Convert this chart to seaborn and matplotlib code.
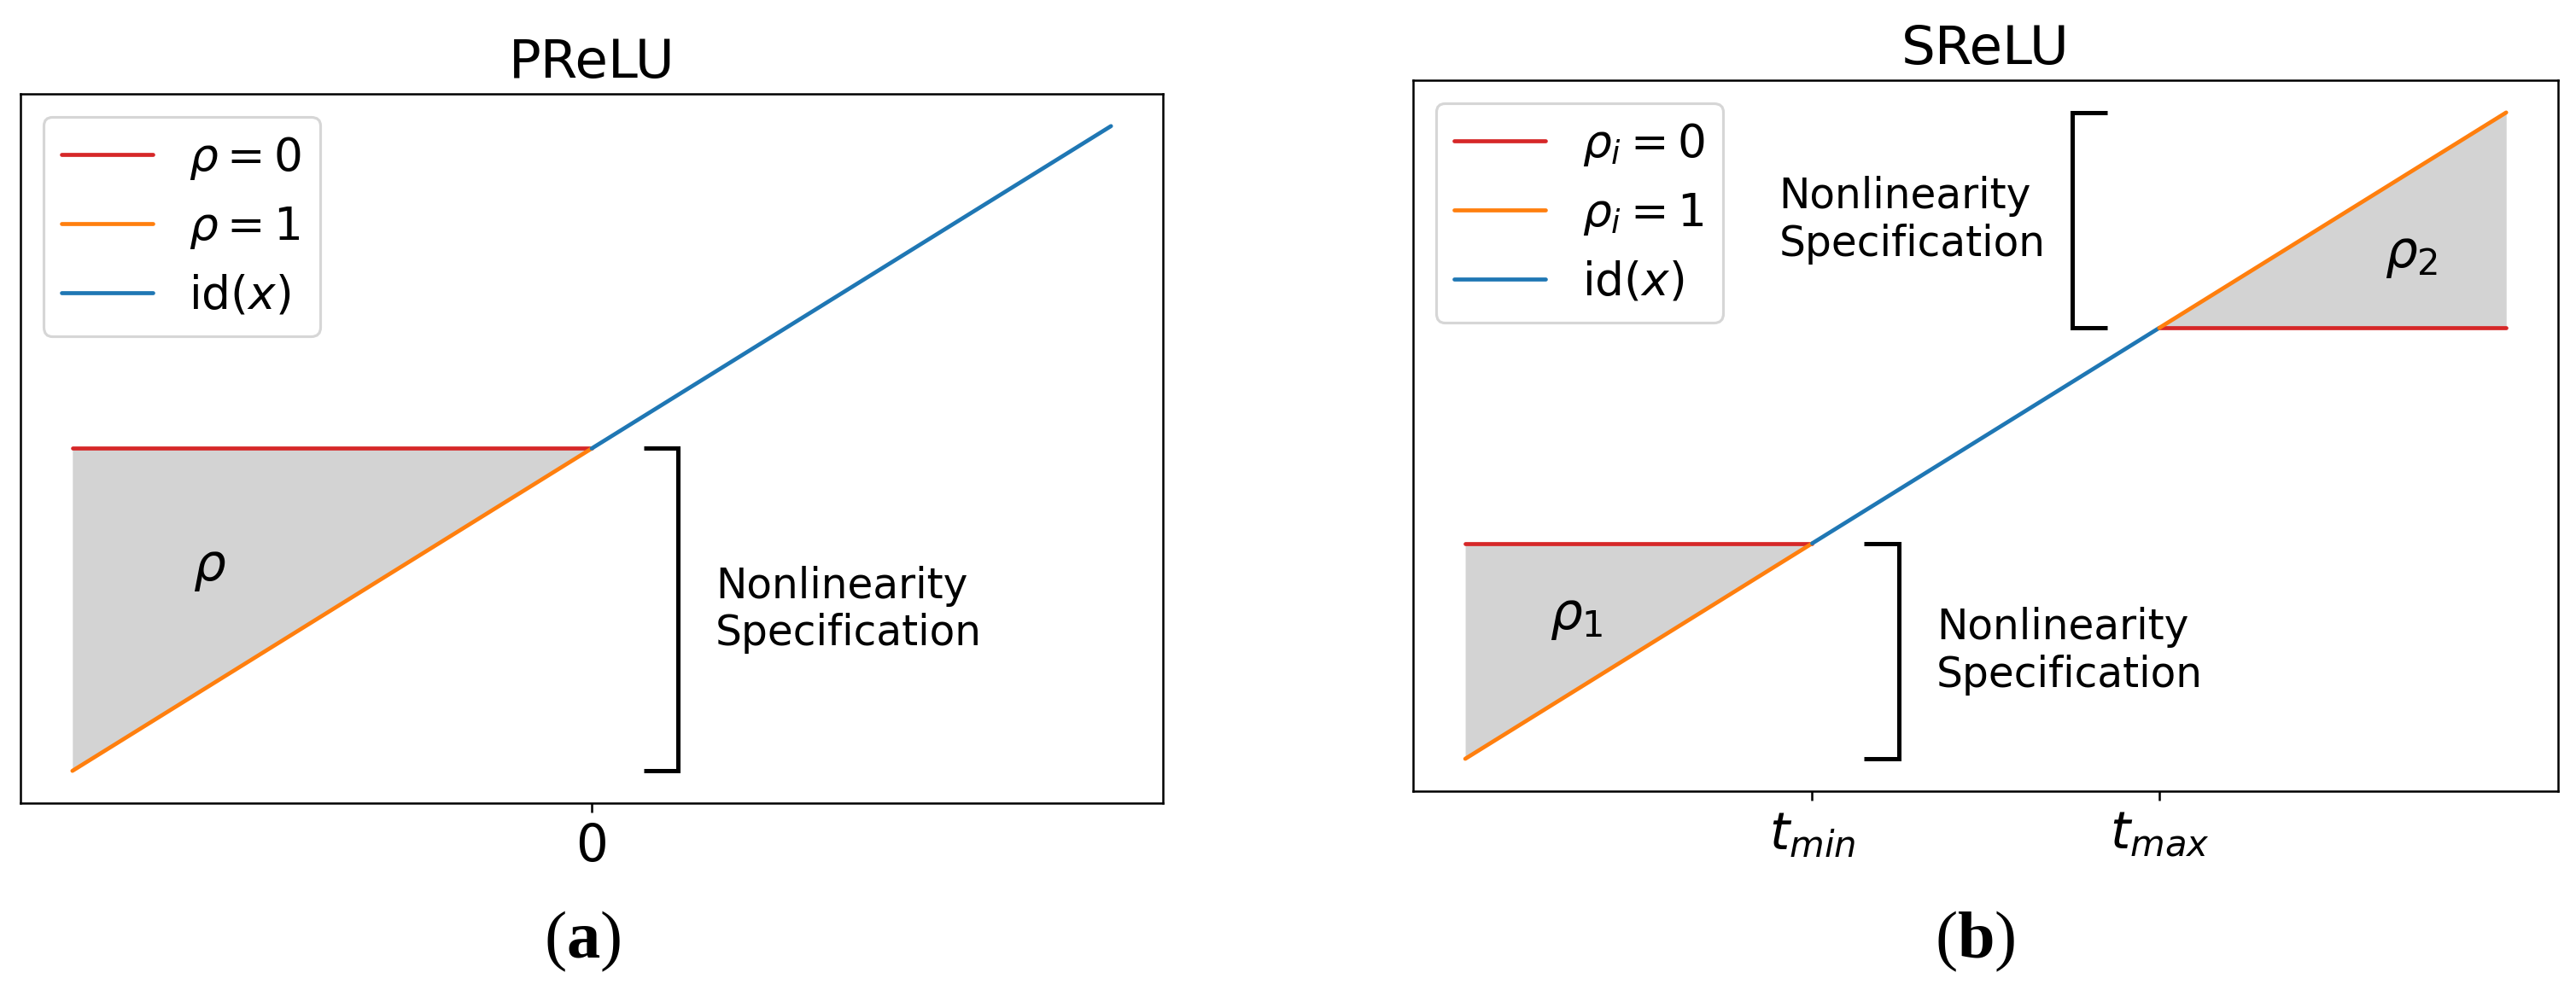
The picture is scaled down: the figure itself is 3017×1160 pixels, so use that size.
import matplotlib
matplotlib.use("Agg")
import matplotlib.pyplot as plt
from matplotlib.offsetbox import TextArea, HPacker, AnchoredOffsetbox
import seaborn as sns

# --- PReLU data ---
prelu_neg_x = [-1.0, 0.0]
prelu_neg_id = [-1.0, 0.0]      # rho = 1 branch
prelu_neg_zero = [0.0, 0.0]     # rho = 0 branch
prelu_pos_x = [0.0, 1.0]
prelu_pos_y = [0.0, 1.0]        # identity
prelu_ticks = [0.0]
prelu_ticklabels = ["0"]

# --- SReLU data ---
t_min, t_max = -0.5, 0.5
srelu_low_x = [-1.5, t_min]
srelu_low_id = [-1.5, t_min]
srelu_low_const = [t_min, t_min]
srelu_mid_x = [t_min, t_max]
srelu_mid_y = [t_min, t_max]
srelu_high_x = [t_max, 1.5]
srelu_high_id = [t_max, 1.5]
srelu_high_const = [t_max, t_max]
srelu_ticks = [t_min, t_max]
srelu_ticklabels = [r"$t_{min}$", r"$t_{max}$"]

RED, ORANGE, BLUE = "#d62728", "#ff7f0e", "#1f77b4"
FILL = "lightgray"

sns.set_style("ticks", {"axes.edgecolor": "black", "xtick.color": "black",
                        "text.color": "black", "axes.labelcolor": "black"})
plt.rcParams["font.family"] = ["DejaVu Sans"]

DPI = 226
fig = plt.figure(figsize=(3017 / DPI, 1160 / DPI), dpi=DPI)
ax1 = fig.add_axes([0.00795, 0.1888, 0.4435, 0.7164])
ax2 = fig.add_axes([0.5486, 0.2009, 0.4445, 0.7181])


def bracket(ax, x, x_tip, y0, y1):
    ax.plot([x_tip, x, x, x_tip], [y0, y0, y1, y1], color="black", lw=1.6,
            solid_capstyle="butt", solid_joinstyle="miter")


SPEC = "Nonlinearity\nSpecification"
TXT = 15.5
TICK = 19
RHO = 19
LEG = 17

# PReLU
ax1.fill_between(prelu_neg_x, prelu_neg_id, prelu_neg_zero, color=FILL, lw=0)
sns.lineplot(x=prelu_neg_x, y=prelu_neg_zero, color=RED, ax=ax1)
sns.lineplot(x=prelu_neg_x, y=prelu_neg_id, color=ORANGE, ax=ax1)
sns.lineplot(x=prelu_pos_x, y=prelu_pos_y, color=BLUE, ax=ax1)
bracket(ax1, 0.166, 0.10, 0.0, -1.0)
ax1.text(0.238, -0.5, SPEC, ha="left", va="center", fontsize=TXT)
ax1.text(-0.735, -0.37, r"$\rho$", ha="center", va="center", fontsize=RHO)
ax1.set_title("PReLU", fontsize=20)
ax1.set_xticks(prelu_ticks)
ax1.set_xticklabels(prelu_ticklabels, fontsize=TICK)
ax1.set_yticks([])
h = ax1.get_lines()
ax1.legend(h[:3], [r"$\rho = 0$", r"$\rho = 1$", r"id$(x)$"], loc="upper left",
           fontsize=LEG)

# SReLU
ax2.fill_between(srelu_low_x, srelu_low_id, srelu_low_const, color=FILL, lw=0)
ax2.fill_between(srelu_high_x, srelu_high_id, srelu_high_const, color=FILL, lw=0)
sns.lineplot(x=srelu_low_x, y=srelu_low_const, color=RED, ax=ax2)
sns.lineplot(x=srelu_low_x, y=srelu_low_id, color=ORANGE, ax=ax2)
sns.lineplot(x=srelu_mid_x, y=srelu_mid_y, color=BLUE, ax=ax2)
sns.lineplot(x=srelu_high_x, y=srelu_high_const, color=RED, ax=ax2)
sns.lineplot(x=srelu_high_x, y=srelu_high_id, color=ORANGE, ax=ax2)
bracket(ax2, -0.25, -0.35, t_min, -1.5)
bracket(ax2, 0.25, 0.35, t_max, 1.5)
ax2.text(-0.142, -1.0, SPEC, ha="left", va="center", fontsize=TXT)
ax2.text(-0.596, 1.0, SPEC, ha="left", va="center", fontsize=TXT)
ax2.text(-1.18, -0.84, r"$\rho_1$", ha="center", va="center", fontsize=RHO)
ax2.text(1.226, 0.84, r"$\rho_2$", ha="center", va="center", fontsize=RHO)
ax2.set_title("SReLU", fontsize=20)
ax2.set_xticks(srelu_ticks)
ax2.set_xticklabels(srelu_ticklabels, fontsize=TICK)
ax2.set_yticks([])
h = ax2.get_lines()
ax2.legend(h[:3], [r"$\rho_i = 0$", r"$\rho_i = 1$", r"id$(x)$"], loc="upper left",
           fontsize=LEG)

for ax in (ax1, ax2):
    for s in ax.spines.values():
        s.set_visible(True)
        s.set_color("black")


def caption(label, x):
    props = dict(fontfamily="Liberation Serif", fontsize=25, color="black")
    box = HPacker(children=[TextArea("(", textprops=props),
                            TextArea(label, textprops=dict(props, fontweight="bold")),
                            TextArea(")", textprops=props)],
                  align="baseline", pad=0, sep=0)
    anch = AnchoredOffsetbox(loc="center", child=box, bbox_to_anchor=(x, 0.049),
                             bbox_transform=fig.transFigure, frameon=False,
                             pad=0, borderpad=0)
    fig.add_artist(anch)


caption("a", 0.2264)
caption("b", 0.767)

fig.savefig("out.png", dpi=DPI)
